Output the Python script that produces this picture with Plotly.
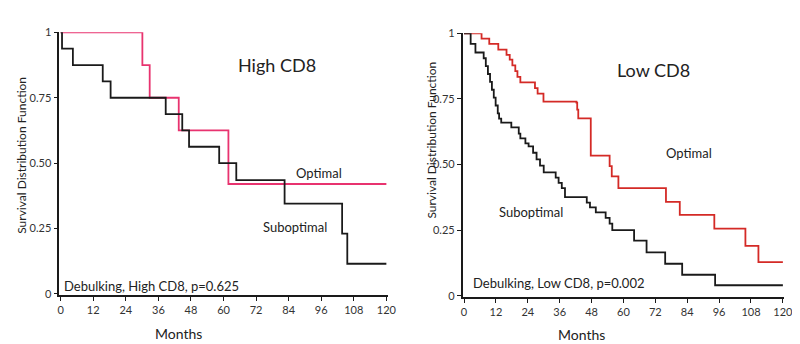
import plotly.graph_objects as go

# ---- data ----
hi_opt_t = [0, 30.1, 32.8, 43.5, 61.8, 120]
hi_opt_s = [1, 0.875, 0.75, 0.625, 0.42, 0.42]

hi_sub_t = [0, 0.5, 4.5, 15.5, 18.4, 38.7, 44.8, 47.3, 58.4, 64.7, 82.5, 103.7, 105.6, 120]
hi_sub_s = [1, 0.9375, 0.875, 0.8125, 0.75, 0.6875, 0.625, 0.5625, 0.5, 0.435, 0.345, 0.23, 0.115, 0.115]

lo_opt_t = [0, 6.6, 9.5, 12.9, 16.0, 17.2, 18.2, 19.3, 20.1, 21.2, 26.7, 27.7, 29.9,
            42.3, 42.6, 43.0, 47.7, 54.8, 55.6, 58.1, 76.0, 81.2, 94.2, 105.9, 110.8, 120]
lo_opt_s = [1, 0.98, 0.96, 0.938, 0.918, 0.9, 0.878, 0.856, 0.834, 0.813, 0.791, 0.77, 0.74,
            0.736, 0.709, 0.676, 0.534, 0.494, 0.455, 0.41, 0.358, 0.308, 0.256, 0.19, 0.128, 0.128]

lo_sub_t = [0, 2.5, 4.3, 7.4, 8.2, 9.0, 9.8, 10.5, 11.2, 11.9, 12.7, 13.2, 14.0,
            17.8, 20.6, 21.2, 23.1, 24.3, 26.0, 27.3, 28.6, 30.0,
            34.5, 35.6, 36.8, 38.0, 46.2, 47.4, 49.6, 53.3, 54.8, 55.8,
            64.0, 68.7, 75.7, 82.1, 94.5, 120]
lo_sub_s = [1, 0.96, 0.927, 0.905, 0.875, 0.845, 0.815, 0.785, 0.755, 0.725, 0.695, 0.675, 0.66,
            0.642, 0.618, 0.6, 0.581, 0.569, 0.545, 0.52, 0.496, 0.47,
            0.45, 0.43, 0.41, 0.376, 0.355, 0.337, 0.318, 0.297, 0.275, 0.25,
            0.21, 0.165, 0.122, 0.08, 0.04, 0.04]

x_ticks = [0, 12, 24, 36, 48, 60, 72, 84, 96, 108, 120]
y_ticks = [0, 0.25, 0.5, 0.75, 1]
y_tick_labels = ["0", "0.25", "0.50", "0.75", "1"]

PINK = "#e8336f"
RED = "#d42a26"
BLACK = "#1a1a1a"
FONT = "Lato"

W, H = 800, 344

fig = go.Figure()
fig.add_trace(go.Scatter(x=hi_opt_t, y=hi_opt_s, mode="lines", line=dict(shape="hv", color=PINK, width=1.8),
                         xaxis="x", yaxis="y", showlegend=False))
fig.add_trace(go.Scatter(x=hi_sub_t, y=hi_sub_s, mode="lines", line=dict(shape="hv", color=BLACK, width=1.8),
                         xaxis="x", yaxis="y", showlegend=False))
fig.add_trace(go.Scatter(x=lo_opt_t, y=lo_opt_s, mode="lines", line=dict(shape="hv", color=RED, width=1.8),
                         xaxis="x2", yaxis="y2", showlegend=False))
fig.add_trace(go.Scatter(x=lo_sub_t, y=lo_sub_s, mode="lines", line=dict(shape="hv", color=BLACK, width=1.8),
                         xaxis="x2", yaxis="y2", showlegend=False))

def px(x):
    return x / W

def py(y):
    return 1 - y / H

axis_common = dict(showgrid=False, zeroline=False, showline=True, linecolor=BLACK, linewidth=1.5,
                   ticks="outside", ticklen=4, tickwidth=1, tickcolor=BLACK,
                   tickfont=dict(family=FONT, size=11, color="#333"))

fig.update_layout(
    width=W, height=H, margin=dict(l=0, r=0, t=0, b=0),
    paper_bgcolor="white", plot_bgcolor="white",
    font=dict(family=FONT, color="#222"),
    xaxis=dict(domain=[px(50), px(383)], range=[-0.5, 120.5], tickvals=x_ticks, anchor="y", **axis_common),
    yaxis=dict(domain=[py(290), py(18)], range=[-0.004, 1.0], tickvals=y_ticks, ticktext=y_tick_labels,
               anchor="x", **axis_common),
    xaxis2=dict(domain=[px(459), px(785)], range=[-0.5, 120.5], tickvals=x_ticks, anchor="y2", **axis_common),
    yaxis2=dict(domain=[py(292), py(19)], range=[-0.004, 1.0], tickvals=y_ticks, ticktext=y_tick_labels,
                anchor="x2", **axis_common),
)

def ann(x, y, text, size, angle=0):
    fig.add_annotation(x=px(x), y=py(y), xref="paper", yref="paper", text=text, showarrow=False,
                       xanchor="center", yanchor="middle", textangle=angle,
                       font=dict(family=FONT, size=size, color="#222"))

ann(271, 52, "High CD8", 18)
ann(313, 164, "Optimal", 13)
ann(289, 220, "Suboptimal", 13)
ann(143, 281, "Debulking, High CD8, p=0.625", 13)
ann(171, 330, "Months", 14)
ann(12, 145, "Survival Distribution Function", 12, -90)

ann(652, 57, "Low CD8", 18)
ann(688, 143, "Optimal", 13)
ann(528, 204, "Suboptimal", 13)
ann(556, 278, "Debulking, Low CD8, p=0.002", 13)
ann(579, 331, "Months", 14)
ann(427, 130, "Survival Distribution Function", 12, -90)

fig.write_html("out.html")
